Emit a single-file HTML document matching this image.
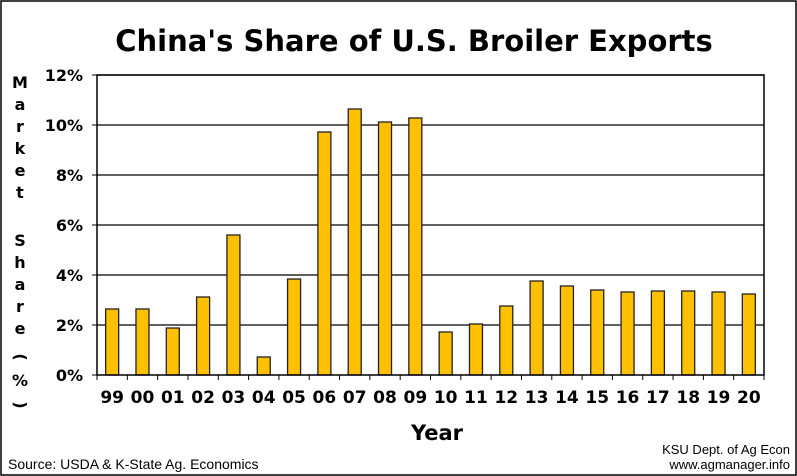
<!DOCTYPE html>
<html><head><meta charset="utf-8"><style>
body{margin:0;background:#fff}
svg{display:block;font-family:"DejaVu Sans","Liberation Sans",sans-serif}
</style></head><body>
<svg id="c" width="797" height="476" xmlns="http://www.w3.org/2000/svg">
<rect x="1" y="1" width="795" height="474" fill="#fff" stroke="#000" stroke-width="1.5"/>
<text x="414" y="51" text-anchor="middle" font-size="29" font-weight="bold">China's Share of U.S. Broiler Exports</text>
<text x="437" y="440" text-anchor="middle" font-size="21" font-weight="bold">Year</text>
<text x="8" y="469" font-size="14" font-family="Liberation Sans, sans-serif">Source:  USDA &amp; K-State Ag. Economics</text>
<text x="790" y="454" text-anchor="end" font-size="13" font-family="Liberation Sans, sans-serif">KSU Dept. of Ag Econ</text>
<text x="790" y="469" text-anchor="end" font-size="13" font-family="Liberation Sans, sans-serif">www.agmanager.info</text>
<g id="ytitle" font-size="16" font-weight="bold" text-anchor="middle"></g>
<g id="grid"></g><g id="bars"></g><g id="axes"></g>
</svg>
<script>
const categories=["99","00","01","02","03","04","05","06","07","08","09","10","11","12","13","14","15","16","17","18","19","20"];
const values=[2.64,2.64,1.88,3.12,5.6,0.72,3.84,9.72,10.64,10.12,10.28,1.72,2.04,2.76,3.76,3.56,3.4,3.32,3.36,3.36,3.32,3.24];
const yTicks=[0,2,4,6,8,10,12];
const yTickLabels=["0%","2%","4%","6%","8%","10%","12%"];
const NS="http://www.w3.org/2000/svg";
const L=97,R=764,T=75,B=375,yMax=12;
const step=(R-L)/categories.length;
const y=v=>B-(v/yMax)*(B-T);
const x=i=>L+step*i;
function mk(tag,attrs,parent,text){const e=document.createElementNS(NS,tag);for(const k in attrs)e.setAttribute(k,attrs[k]);if(text!==undefined)e.textContent=text;parent.appendChild(e);return e;}
const grid=document.getElementById('grid'),bars=document.getElementById('bars'),axes=document.getElementById('axes'),yt=document.getElementById('ytitle');
yTicks.forEach((t,i)=>{
  if(t>0){const g=mk('line',{x1:L,x2:R,y1:y(t),y2:y(t),stroke:'#000','stroke-width':1.3},grid);
  
  }
  const tk=mk('line',{x1:L-5,x2:L,y1:y(t),y2:y(t),stroke:'#000','stroke-width':1},axes);
  
  
  const lb=mk('text',{x:L-14,y:y(t)+6,'text-anchor':'end','font-size':16,'font-weight':'bold'},axes,yTickLabels[i]);
  
  
});
const bw=13;
categories.forEach((c,i)=>{
  const cx=x(i)+step/2;
  const r=mk('rect',{x:cx-bw/2,y:y(values[i]),width:bw,height:B-y(values[i]),fill:'#FFC000',stroke:'#222','stroke-width':1.3},bars);
  
  
  const tk=mk('line',{x1:x(i),x2:x(i),y1:B,y2:B+5,stroke:'#000','stroke-width':1},axes);
  
  
  const lb=mk('text',{x:cx,y:B+28,'text-anchor':'middle','font-size':17,'font-weight':'bold'},axes,c);
  
  
});
const endTick=mk('line',{x1:R,x2:R,y1:B,y2:B+5,stroke:'#000','stroke-width':1},axes);


const frame=mk('rect',{x:L,y:T,width:R-L,height:B-T,fill:'none',stroke:'#000','stroke-width':1.5},axes);


const letters=["M","a","r","k","e","t","","S","h","a","r","e","","(","%",")"];
const ly=[88,110,132,154,176,198,0,246,268,290,312,334,0,362,386,410];
letters.forEach((ch,i)=>{if(!ch)return;
  const t=mk('text',{x:20,y:ly[i]},yt,ch);
  if(ch==='('||ch===')'){t.setAttribute('transform','rotate(90 20 '+(ly[i]-5)+')');}
  
  
});
</script>
</body></html>
